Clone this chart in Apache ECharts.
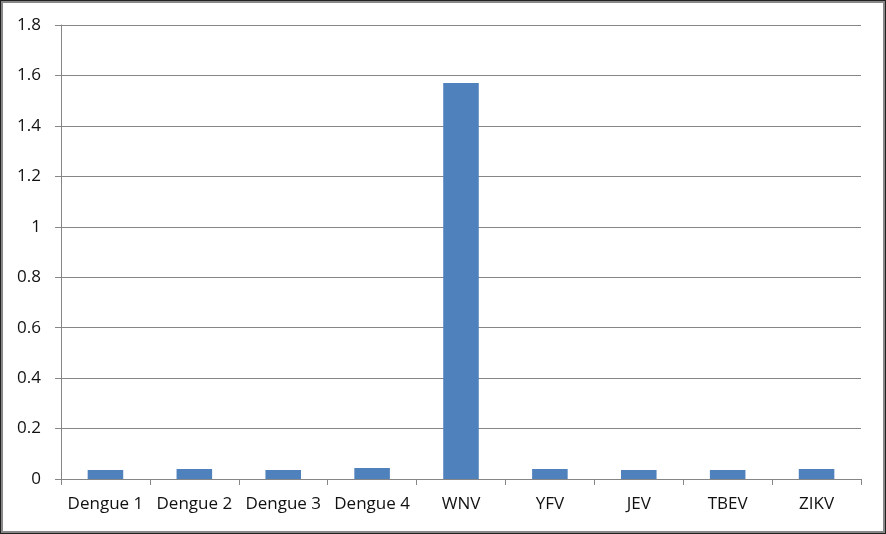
<!DOCTYPE html>
<html><head><meta charset="utf-8">
<script src="https://cdn.jsdelivr.net/npm/echarts@6/dist/echarts.min.js"></script>
<style>
html,body{margin:0;padding:0;background:#fff;}
#outer{width:886px;height:534px;box-sizing:border-box;border:1px solid #222;}
#inner{width:100%;height:100%;box-sizing:border-box;border:2px solid #888;}
#chart{width:880px;height:528px;}
</style></head>
<body><div id="outer"><div id="inner"><div id="chart"></div></div></div>
<script>
const categories = ['Dengue 1','Dengue 2','Dengue 3','Dengue 4','WNV','YFV','JEV','TBEV','ZIKV'];
const values = [0.036, 0.040, 0.036, 0.044, 1.57, 0.040, 0.036, 0.036, 0.040];
const chart = echarts.init(document.getElementById('chart'));
const font = '"Open Sans", sans-serif';
chart.setOption({
  animation:false,
  grid:{left:58, right:22, top:22, bottom:52, containLabel:false},
  xAxis:{type:'category', data:categories,
    axisLine:{lineStyle:{color:'#868686', width:1}},
    axisTick:{show:true, length:6, lineStyle:{color:'#868686'}},
    axisLabel:{color:'#111', fontFamily:font, fontSize:17, margin:17, interval:0}
  },
  yAxis:{type:'value', min:0, max:1.8, interval:0.2,
    axisLine:{show:true, lineStyle:{color:'#868686'}},
    axisTick:{show:true, length:6, lineStyle:{color:'#868686'}},
    splitLine:{lineStyle:{color:'#868686'}},
    axisLabel:{color:'#111', fontFamily:font, fontSize:17, margin:20,
      formatter:v=>String(Math.round(v*10)/10)}
  },
  series:[{type:'bar', data:values, barWidth:'40%', itemStyle:{color:'#4F81BD'}}]
});
</script></body></html>
